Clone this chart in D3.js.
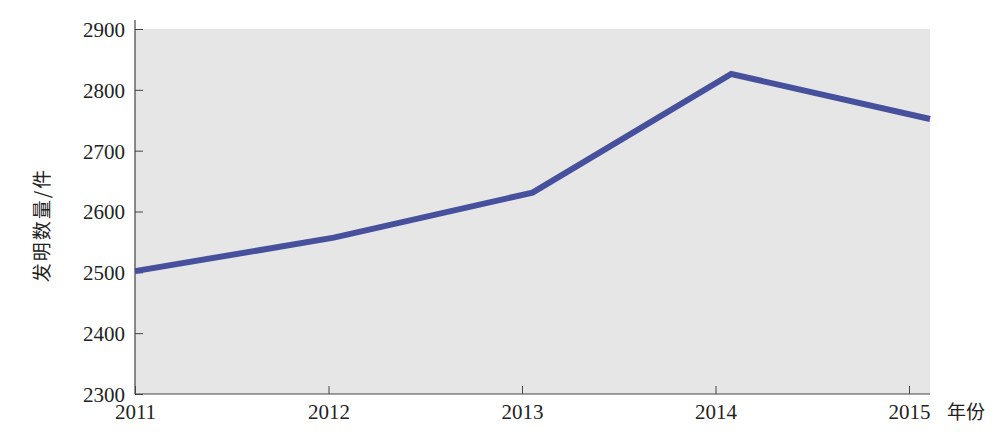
<!DOCTYPE html>
<html>
<head>
<meta charset="utf-8">
<script src="https://cdn.jsdelivr.net/npm/d3@7"></script>
<style>
  body { margin: 0; background: #fff; }
  svg text { font-family: "Liberation Serif", "DejaVu Serif", serif; fill: #222; }
  .cjk { font-family: "Noto Sans CJK SC", sans-serif; }
</style>
</head>
<body>
<svg width="1000" height="434"></svg>
<script>
var years = [2011, 2012, 2013, 2014, 2015];
var counts = [2502, 2557, 2631, 2826, 2752];
var yTicks = [2300, 2400, 2500, 2600, 2700, 2800, 2900];

var svg = d3.select("svg");
var plotLeft = 135, plotTop = 29, plotRight = 930, plotBottom = 394;

// data runs across the whole grey panel, tick marks sit a little short of it
var x = d3.scaleLinear().domain([2011, 2015]).range([plotLeft, plotRight]);
var xTick = d3.scaleLinear().domain([2011, 2015]).range([plotLeft, 909]);
var y = d3.scaleLinear().domain([2300, 2900]).range([plotBottom, plotTop]);

svg.append("rect")
    .attr("x", plotLeft).attr("y", plotTop)
    .attr("width", plotRight - plotLeft).attr("height", plotBottom - plotTop)
    .attr("fill", "#e6e6e6");

// y axis
var gy = svg.append("g").attr("transform", "translate(" + plotLeft + ",0)");
gy.call(d3.axisRight(y).tickValues(yTicks).tickSize(8).tickSizeOuter(0).tickFormat(d3.format("d")));
gy.select(".domain").remove();
gy.selectAll(".tick line").attr("stroke", "#444");
gy.selectAll(".tick text")
    .attr("x", -10).attr("text-anchor", "end")
    .attr("font-size", 21).attr("dy", "0.35em");
gy.append("line").attr("x1", 0).attr("x2", 0).attr("y1", 20).attr("y2", plotBottom)
    .attr("stroke", "#444").attr("stroke-width", 1.2);

// x axis
var gx = svg.append("g").attr("transform", "translate(0," + plotBottom + ")");
gx.call(d3.axisTop(xTick).tickValues(years).tickSize(8).tickSizeOuter(0).tickFormat(d3.format("d")));
gx.select(".domain").remove();
gx.selectAll(".tick line").attr("stroke", "#444");
gx.selectAll(".tick text")
    .attr("y", 10).attr("dy", "0.71em")
    .attr("font-size", 21);
gx.append("line").attr("x1", plotLeft).attr("x2", plotRight).attr("y1", 0).attr("y2", 0)
    .attr("stroke", "#444").attr("stroke-width", 1.2);

svg.append("text").attr("class", "cjk")
    .attr("x", 947).attr("y", 419)
    .attr("font-size", 19)
    .text("年份");

svg.append("text").attr("class", "cjk")
    .attr("transform", "translate(49,225) rotate(-90)")
    .attr("text-anchor", "middle")
    .attr("font-size", 19)
    .attr("letter-spacing", 2)
    .text("发明数量/件");

var line = d3.line()
    .x(function(d, i) { return x(years[i]); })
    .y(function(d) { return y(d); });

svg.append("path")
    .datum(counts)
    .attr("d", line)
    .attr("fill", "none")
    .attr("stroke", "#46509c")
    .attr("stroke-width", 6)
    .attr("stroke-linejoin", "miter");
</script>
</body>
</html>
